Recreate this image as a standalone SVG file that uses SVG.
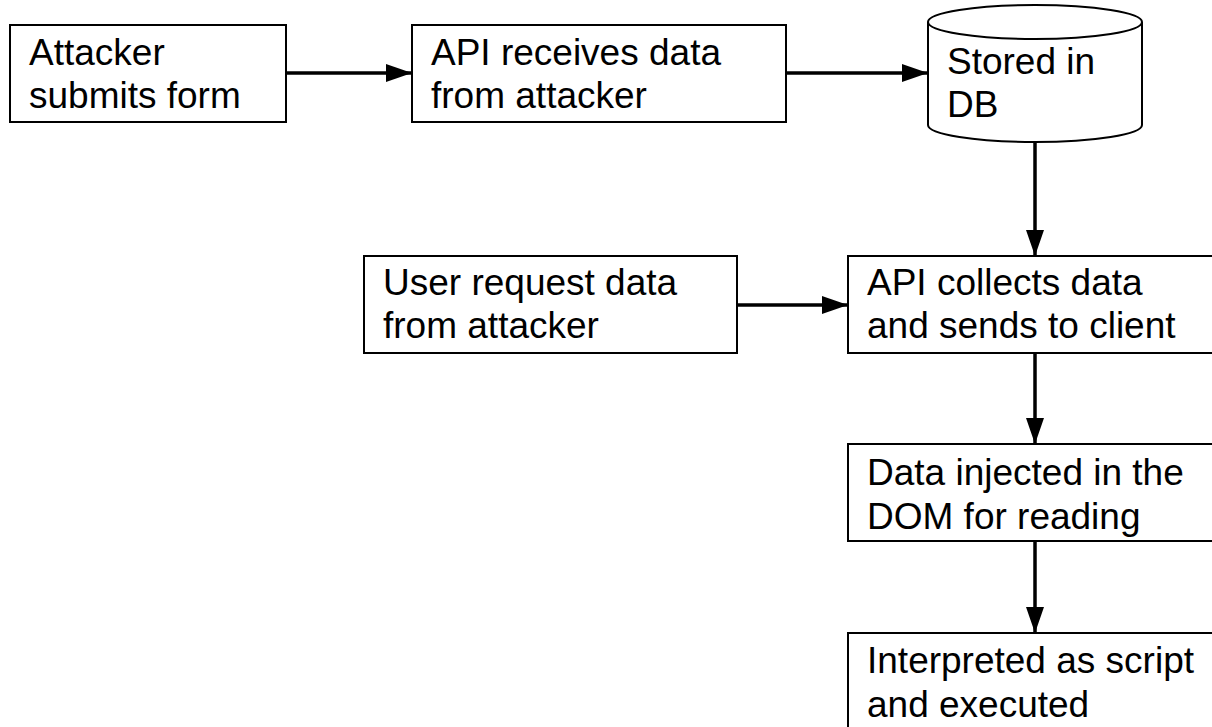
<svg xmlns="http://www.w3.org/2000/svg" width="1212" height="727" viewBox="0 0 1212 727">
<defs>
<style>
.box{fill:#fff;stroke:#000;stroke-width:2}
.lbl{font-family:"Liberation Sans",Arial,sans-serif;font-size:37px;fill:#000}
.conn{stroke:#000;stroke-width:3.5;fill:none}
</style>
<marker id="arr" markerUnits="userSpaceOnUse" markerWidth="28" markerHeight="20" refX="26" refY="10" orient="auto">
<path d="M0,1 L26,10 L0,19 Z" fill="#000"/>
</marker>
</defs>
<rect width="1212" height="727" fill="#fff"/>
<g id="n1">
<rect class="box" x="10" y="25" width="276" height="97"/>
<text class="lbl" x="29" y="65">Attacker</text>
<text class="lbl" x="29" y="108">submits form</text>
</g>
<g id="n2">
<rect class="box" x="412" y="25" width="374" height="97"/>
<text class="lbl" x="431" y="65">API receives data</text>
<text class="lbl" x="431" y="108">from attacker</text>
</g>
<g id="n3">
<path class="box" d="M928,22 L928,125 A107,17 0 0 0 1142,125 L1142,22 A107,17 0 0 0 928,22 Z"/>
<path d="M928,22 A107,17 0 0 0 1142,22" fill="none" stroke="#000" stroke-width="2"/>
<text class="lbl" x="947" y="74">Stored in</text>
<text class="lbl" x="947" y="117">DB</text>
</g>
<g id="n4">
<rect class="box" x="364" y="256" width="373" height="97"/>
<text class="lbl" x="383" y="295">User request data</text>
<text class="lbl" x="383" y="338">from attacker</text>
</g>
<g id="n5">
<rect class="box" x="848" y="256" width="380" height="97"/>
<text class="lbl" x="867" y="295">API collects data</text>
<text class="lbl" x="867" y="338">and sends to client</text>
</g>
<g id="n6">
<rect class="box" x="848" y="444" width="380" height="97"/>
<text class="lbl" x="867" y="485">Data injected in the</text>
<text class="lbl" x="867" y="529">DOM for reading</text>
</g>
<g id="n7">
<rect class="box" x="848" y="633" width="380" height="120"/>
<text class="lbl" x="867" y="673">Interpreted as script</text>
<text class="lbl" x="867" y="717">and executed</text>
</g>
<g id="connectors">
<line class="conn" x1="286" y1="73" x2="412" y2="73" marker-end="url(#arr)"/>
<line class="conn" x1="786" y1="73" x2="928" y2="73" marker-end="url(#arr)"/>
<line class="conn" x1="1035" y1="142" x2="1035" y2="256" marker-end="url(#arr)"/>
<line class="conn" x1="737" y1="305" x2="848" y2="305" marker-end="url(#arr)"/>
<line class="conn" x1="1035" y1="353" x2="1035" y2="444" marker-end="url(#arr)"/>
<line class="conn" x1="1035" y1="541" x2="1035" y2="633" marker-end="url(#arr)"/>
</g>
</svg>
